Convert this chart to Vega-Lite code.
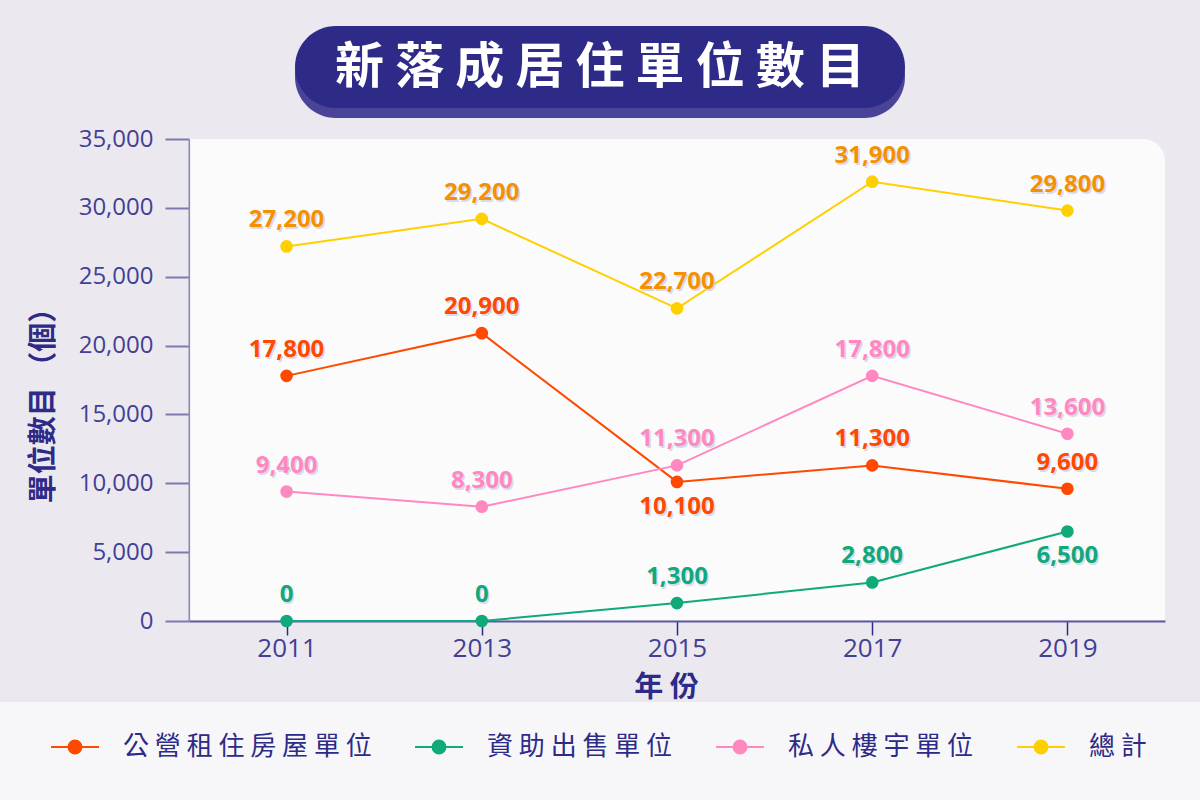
{
  "$schema": "https://vega.github.io/schema/vega-lite/v6.json",
  "width": 976,
  "height": 482,
  "autosize": {"type": "none"},
  "padding": {"left": 189, "top": 139, "right": 35, "bottom": 179},
  "background": "#ebe9ef",
  "config": {"view": {"stroke": null, "fill": null}},
  "data": {
    "values": [
      {"year": 2011, "series": "公營租住房屋單位", "value": 17800},
      {"year": 2013, "series": "公營租住房屋單位", "value": 20900},
      {"year": 2015, "series": "公營租住房屋單位", "value": 10100},
      {"year": 2017, "series": "公營租住房屋單位", "value": 11300},
      {"year": 2019, "series": "公營租住房屋單位", "value": 9600},
      {"year": 2011, "series": "資助出售單位", "value": 0},
      {"year": 2013, "series": "資助出售單位", "value": 0},
      {"year": 2015, "series": "資助出售單位", "value": 1300},
      {"year": 2017, "series": "資助出售單位", "value": 2800},
      {"year": 2019, "series": "資助出售單位", "value": 6500},
      {"year": 2011, "series": "私人樓宇單位", "value": 9400},
      {"year": 2013, "series": "私人樓宇單位", "value": 8300},
      {"year": 2015, "series": "私人樓宇單位", "value": 11300},
      {"year": 2017, "series": "私人樓宇單位", "value": 17800},
      {"year": 2019, "series": "私人樓宇單位", "value": 13600},
      {"year": 2011, "series": "總計", "value": 27200},
      {"year": 2013, "series": "總計", "value": 29200},
      {"year": 2015, "series": "總計", "value": 22700},
      {"year": 2017, "series": "總計", "value": 31900},
      {"year": 2019, "series": "總計", "value": 29800}
    ]
  },
  "layer": [
    {
      "data": {"values": [{"part": "plot"}]},
      "mark": {"type": "rect", "fill": "#fbfbfb", "cornerRadiusTopRight": 22},
      "encoding": {
        "x": {"datum": 2010.012, "type": "quantitative"},
        "x2": {"datum": 2020},
        "y": {"datum": 75, "type": "quantitative"},
        "y2": {"datum": 35000}
      }
    },
    {
      "data": {"values": [{"part": "band"}]},
      "mark": {"type": "rect", "fill": "#f7f7f9"},
      "encoding": {
        "x": {"datum": 2007.5, "type": "quantitative"},
        "x2": {"datum": 2021},
        "y": {"datum": -5882, "type": "quantitative"},
        "y2": {"datum": -14500}
      }
    },
    {
      "data": {"values": [{"part": "banner"}]},
      "mark": {"type": "rect", "fill": "#4a4498", "cornerRadius": 41},
      "encoding": {
        "x": {"datum": 2011.086, "type": "quantitative"},
        "x2": {"datum": 2017.336},
        "y": {"datum": 42626, "type": "quantitative"},
        "y2": {"datum": 36526}
      }
    },
    {
      "data": {"values": [{"part": "banner"}]},
      "mark": {"type": "rect", "fill": "#2e2a87", "cornerRadius": 41},
      "encoding": {
        "x": {"datum": 2011.086, "type": "quantitative"},
        "x2": {"datum": 2017.336},
        "y": {"datum": 43207, "type": "quantitative"},
        "y2": {"datum": 37252}
      }
    },
    {
      "data": {"values": [{"part": "banner"}]},
      "mark": {
        "type": "text",
        "font": "Noto Sans CJK TC",
        "fontSize": 49,
        "fontWeight": "bold",
        "fill": "#ffffff",
        "align": "center",
        "baseline": "middle"
      },
      "encoding": {
        "x": {"datum": 2014.211, "type": "quantitative"},
        "y": {"datum": 40157, "type": "quantitative"},
        "text": {"value": "新 落 成 居 住 單 位 數 目"}
      }
    },
    {
      "mark": {"type": "line", "strokeWidth": 2},
      "encoding": {
        "x": {
          "field": "year",
          "type": "quantitative",
          "scale": {"domain": [2010, 2020], "nice": false, "zero": false},
          "axis": {
            "values": [2011, 2013, 2015, 2017, 2019],
            "format": "d",
            "grid": false,
            "labelFont": "Open Sans",
            "labelFontSize": 26,
            "labelColor": "#433f95",
            "labelPadding": 0,
            "tickSize": 14,
            "tickWidth": 1.5,
            "tickColor": "#2e2a87",
            "domainColor": "#5d5a9f",
            "domainWidth": 2,
            "titleFont": "Noto Sans CJK TC",
            "titleFontSize": 29,
            "titleFontWeight": "bold",
            "titleColor": "#2e2a87",
            "titleX": 477,
            "titleY": 66,
            "titleAlign": "center",
            "titleBaseline": "middle"
          },
          "title": "年 份"
        },
        "y": {
          "field": "value",
          "type": "quantitative",
          "scale": {"domain": [0, 35000], "nice": false},
          "axis": {
            "values": [0, 5000, 10000, 15000, 20000, 25000, 30000, 35000],
            "format": ",d",
            "grid": false,
            "labelFont": "Open Sans",
            "labelFontSize": 24,
            "labelColor": "#433f95",
            "labelPadding": 12,
            "tickSize": 24,
            "tickWidth": 2,
            "tickColor": "#7d7aae",
            "domainColor": "#8a88b5",
            "domainWidth": 2,
            "titleFont": "Noto Sans CJK TC",
            "titleFontSize": 29,
            "titleFontWeight": "bold",
            "titleColor": "#2e2a87",
            "titleX": -146,
            "titleY": 259,
            "titleAlign": "center",
            "titleBaseline": "middle"
          },
          "title": "單位數目   （個）"
        },
        "color": {
          "field": "series",
          "type": "nominal",
          "scale": {
            "domain": ["公營租住房屋單位", "資助出售單位", "私人樓宇單位", "總計"],
            "range": ["#ff4800", "#10a97a", "#ff88c0", "#ffd000"]
          },
          "legend": {
            "orient": "none",
            "legendX": -139,
            "legendY": 583,
            "direction": "horizontal",
            "title": null,
            "padding": 0,
            "symbolType": "M-1,0H1M0.27,0A0.27,0.27,0,1,1,-0.27,0A0.27,0.27,0,1,1,0.27,0Z",
            "symbolSize": 2304,
            "symbolStrokeWidth": 2,
            "labelFont": "Noto Sans CJK TC",
            "labelFontSize": 26,
            "labelColor": "#2e2a87",
            "labelOffset": 23,
            "labelLimit": 400,
            "columnPadding": 39,
            "labelExpr": "join(split(datum.label, ''), ' ')",
            "encode": {
              "symbols": {
                "update": {
                  "fill": {"scale": "color", "field": "value"},
                  "stroke": {"scale": "color", "field": "value"},
                  "strokeWidth": {"value": 2},
                  "opacity": {"value": 1}
                }
              }
            }
          }
        }
      }
    },
    {
      "mark": {"type": "point", "filled": true, "size": 160, "opacity": 1},
      "encoding": {
        "x": {"field": "year", "type": "quantitative", "title": "年 份"},
        "y": {"field": "value", "type": "quantitative", "title": "單位數目   （個）"},
        "color": {"field": "series", "type": "nominal"}
      }
    },
    {
      "transform": [
        {"filter": "!((datum.series == '公營租住房屋單位' && datum.year == 2015) || (datum.series == '資助出售單位' && datum.year == 2019))"}
      ],
      "mark": {
        "type": "text",
        "font": "Open Sans",
        "fontSize": 24,
        "fontWeight": "bold",
        "baseline": "middle",
        "align": "center",
        "dx": 1.5,
        "dy": -24,
        "fill": "#d3d0e8",
        "opacity": 0.8
      },
      "encoding": {
        "x": {"field": "year", "type": "quantitative", "title": "年 份"},
        "y": {"field": "value", "type": "quantitative", "title": "單位數目   （個）"},
        "text": {"field": "value", "type": "quantitative", "format": ",d"}
      }
    },
    {
      "transform": [
        {"filter": "(datum.series == '公營租住房屋單位' && datum.year == 2015) || (datum.series == '資助出售單位' && datum.year == 2019)"}
      ],
      "mark": {
        "type": "text",
        "font": "Open Sans",
        "fontSize": 24,
        "fontWeight": "bold",
        "baseline": "middle",
        "align": "center",
        "dx": 1.5,
        "dy": 27,
        "fill": "#d3d0e8",
        "opacity": 0.8
      },
      "encoding": {
        "x": {"field": "year", "type": "quantitative", "title": "年 份"},
        "y": {"field": "value", "type": "quantitative", "title": "單位數目   （個）"},
        "text": {"field": "value", "type": "quantitative", "format": ",d"}
      }
    },
    {
      "transform": [
        {"filter": "!((datum.series == '公營租住房屋單位' && datum.year == 2015) || (datum.series == '資助出售單位' && datum.year == 2019))"}
      ],
      "mark": {
        "type": "text",
        "font": "Open Sans",
        "fontSize": 24,
        "fontWeight": "bold",
        "baseline": "middle",
        "align": "center",
        "dy": -26
      },
      "encoding": {
        "x": {"field": "year", "type": "quantitative", "title": "年 份"},
        "y": {"field": "value", "type": "quantitative", "title": "單位數目   （個）"},
        "text": {"field": "value", "type": "quantitative", "format": ",d"},
        "fill": {
          "field": "series",
          "type": "nominal",
          "scale": {
            "domain": ["公營租住房屋單位", "資助出售單位", "私人樓宇單位", "總計"],
            "range": ["#ff4800", "#10a97a", "#ff88c0", "#f39200"]
          },
          "legend": null
        }
      }
    },
    {
      "transform": [
        {"filter": "(datum.series == '公營租住房屋單位' && datum.year == 2015) || (datum.series == '資助出售單位' && datum.year == 2019)"}
      ],
      "mark": {
        "type": "text",
        "font": "Open Sans",
        "fontSize": 24,
        "fontWeight": "bold",
        "baseline": "middle",
        "align": "center",
        "dy": 25
      },
      "encoding": {
        "x": {"field": "year", "type": "quantitative", "title": "年 份"},
        "y": {"field": "value", "type": "quantitative", "title": "單位數目   （個）"},
        "text": {"field": "value", "type": "quantitative", "format": ",d"},
        "fill": {
          "field": "series",
          "type": "nominal",
          "legend": null
        }
      }
    }
  ]
}
